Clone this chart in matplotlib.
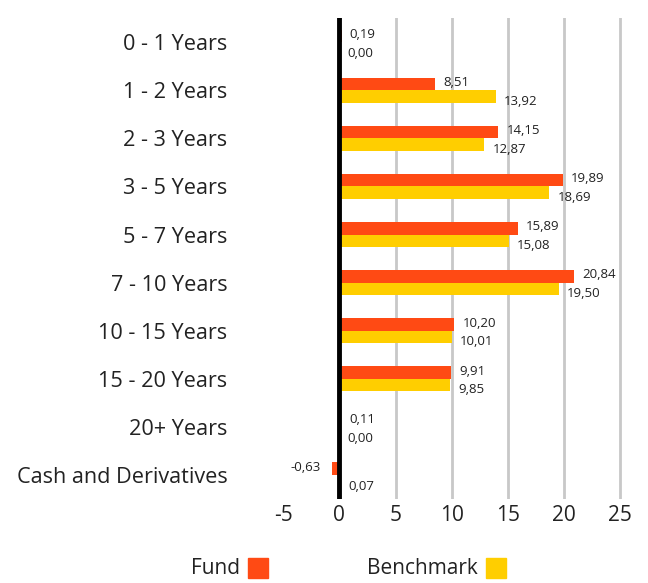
import matplotlib
matplotlib.use("Agg")
import matplotlib.pyplot as plt
from matplotlib.patches import Rectangle
import numpy as np

plt.rcParams['font.family'] = ['Open Sans', 'DejaVu Sans']

categories = ["0 - 1 Years", "1 - 2 Years", "2 - 3 Years", "3 - 5 Years", "5 - 7 Years",
              "7 - 10 Years", "10 - 15 Years", "15 - 20 Years", "20+ Years", "Cash and Derivatives"]
fund = [0.19, 8.51, 14.15, 19.89, 15.89, 20.84, 10.20, 9.91, 0.11, -0.63]
benchmark = [0.00, 13.92, 12.87, 18.69, 15.08, 19.50, 10.01, 9.85, 0.00, 0.07]
xticks = [-5, 0, 5, 10, 15, 20, 25]

fund_color = "#FF4A14"
bench_color = "#FFCE00"

fig = plt.figure(figsize=(6.48, 5.83), dpi=100)
ax = fig.add_axes([0.437, 0.144, 0.529, 0.825])

y = np.arange(len(categories))
h = 0.26
ax.barh(y - h / 2, fund, height=h, color=fund_color, zorder=3)
ax.barh(y + h / 2, benchmark, height=h, color=bench_color, zorder=3)

def fmt(v):
    return f"{v:.2f}".replace(".", ",")

for i, (f, b) in enumerate(zip(fund, benchmark)):
    if f >= 0:
        ax.annotate(fmt(f), (max(f, 0), i - h / 2), xytext=(6, 1), textcoords="offset points",
                    ha="left", va="center", fontsize=9.5, color="#222222")
    else:
        ax.annotate(fmt(f), (f, i - h / 2), xytext=(-8, 1), textcoords="offset points",
                    ha="right", va="center", fontsize=9.5, color="#222222")
    ax.annotate(fmt(b), (max(b, 0), i + h / 2), xytext=(6, -3.5), textcoords="offset points",
                ha="left", va="center", fontsize=9.5, color="#222222")

ax.set_ylim(len(categories) - 0.5, -0.5)
ax.set_xlim(-5, 25.5)
ax.set_yticks(y)
ax.set_yticklabels(categories, fontsize=15.6, color="#222222")
ax.set_xticks(xticks)
ax.set_xticklabels([str(t) for t in xticks], fontsize=15, color="#222222")
ax.tick_params(axis="both", length=0)
ax.tick_params(axis="y", pad=40)
ax.tick_params(axis="x", pad=4)

for t in xticks:
    if t > 0:
        ax.axvline(t, color="#C8C8C8", lw=2, zorder=1)
ax.axvline(0, color="black", lw=3.5, zorder=4)

for s in ax.spines.values():
    s.set_visible(False)

# legend
fig.text(240 / 648, 1 - 569 / 583, "Fund", ha="right", va="center", fontsize=15, color="#222222")
fig.patches.append(Rectangle((248 / 648, 1 - 578 / 583), 20 / 648, 20 / 583,
                             transform=fig.transFigure, color=fund_color, figure=fig))
fig.text(478 / 648, 1 - 569 / 583, "Benchmark", ha="right", va="center", fontsize=15, color="#222222")
fig.patches.append(Rectangle((486 / 648, 1 - 578 / 583), 20 / 648, 20 / 583,
                             transform=fig.transFigure, color=bench_color, figure=fig))

fig.savefig("out.png", dpi=100)
